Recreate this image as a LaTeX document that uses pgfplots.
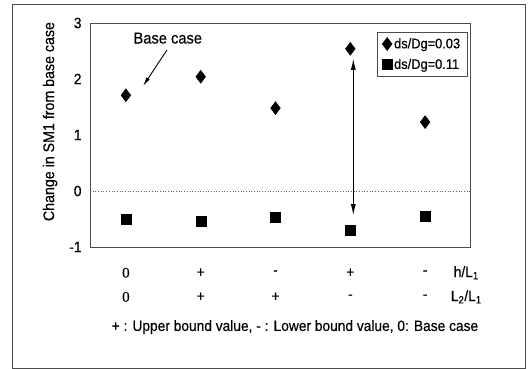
\documentclass[border=0pt]{standalone}
\usepackage{fontspec}
\setmainfont{Liberation Sans}[FakeStretch=0.92, FakeBold=0.4]
\newfontfamily\seriffont{Liberation Serif}[FakeBold=0.4]
\usepackage{pgfplots}
\pgfplotsset{compat=1.18}
\usetikzlibrary{arrows.meta}
\begin{document}
\begin{tikzpicture}[font=\fontsize{15}{17}\selectfont]
\useasboundingbox (-90bp,-122bp) rectangle (440bp,247bp);
\draw[black!70, line width=0.8pt] (-78bp,-121bp) rectangle (435bp,243bp);
\begin{axis}[
  at={(0,0)}, anchor=south west,
  scale only axis, width=380bp, height=224bp,
  xmin=-0.48, xmax=4.6, ymin=-1, ymax=3,
  xtick=\empty, ytick={-1,0,1,2,3},
  major tick length=0pt,
  tick label style={font=\fontsize{15}{17}\selectfont},
  yticklabel style={xshift=-5bp},
  /pgf/number format/assume math mode=true,
  axis line style={black!70, line width=0.6pt},
  clip=false,
  ylabel={Change in SM1 from base case},
  ylabel style={at={(axis description cs:-0.105,0.56)}, anchor=center, font=\fontsize{15.5}{17}\selectfont},
  legend style={at={(axis description cs:0.755,0.96)}, anchor=north west,
    draw=black!70, line width=0.5pt, row sep=5bp, inner xsep=5bp, inner ysep=4bp,
    font=\fontsize{14}{16}\selectfont},
  legend cell align=left,
  legend image code/.code={\draw[#1] plot coordinates {(0.12cm,0cm)};},
]
\draw[black!60, dotted, line width=0.7pt] (axis cs:-0.48,0) -- (axis cs:4.6,0);
\addplot[only marks, mark=diamond*, mark size=6.5bp, black] coordinates {
 (0,1.71) (1,2.04) (2,1.48) (3,2.54) (4,1.23)};
\addlegendentry{ds/Dg=0.03}
\addplot[only marks, mark=square*, mark size=5bp, black] coordinates {
 (0,-0.50) (1,-0.54) (2,-0.46) (3,-0.70) (4,-0.45)};
\addlegendentry{ds/Dg=0.11}
\draw[{Latex[length=11bp,width=5bp]}-{Latex[length=11bp,width=5bp]}, line width=0.9pt]
  (axis cs:3.04,2.36) -- (axis cs:3.04,-0.43);
\node[font=\fontsize{16}{18}\selectfont] at (axis cs:0.56,2.73) {Base case};
\draw[-{Latex[length=9bp,width=4bp]}, line width=0.9pt] (axis cs:0.55,2.52) -- (axis cs:0.23,1.875);
\node at (axis cs:0,-1.46) {\seriffont 0};
\node at (axis cs:0,-1.89) {\seriffont 0};
\node at (axis cs:1,-1.46) {+};
\node at (axis cs:1,-1.89) {+};
\node at (axis cs:2,-1.46) {-};
\node at (axis cs:2,-1.89) {+};
\node at (axis cs:3,-1.46) {+};
\node at (axis cs:3,-1.89) {-};
\node at (axis cs:4,-1.46) {-};
\node at (axis cs:4,-1.89) {-};
\node at (axis cs:4.55,-1.46) {h/L\textsubscript{1}};
\node at (axis cs:4.55,-1.89) {L\textsubscript{2}/L\textsubscript{1}};
\node at (axis cs:2.26,-2.43) {+ : Upper bound value, - : Lower bound value, 0: Base case};
\end{axis}
\end{tikzpicture}
\end{document}
